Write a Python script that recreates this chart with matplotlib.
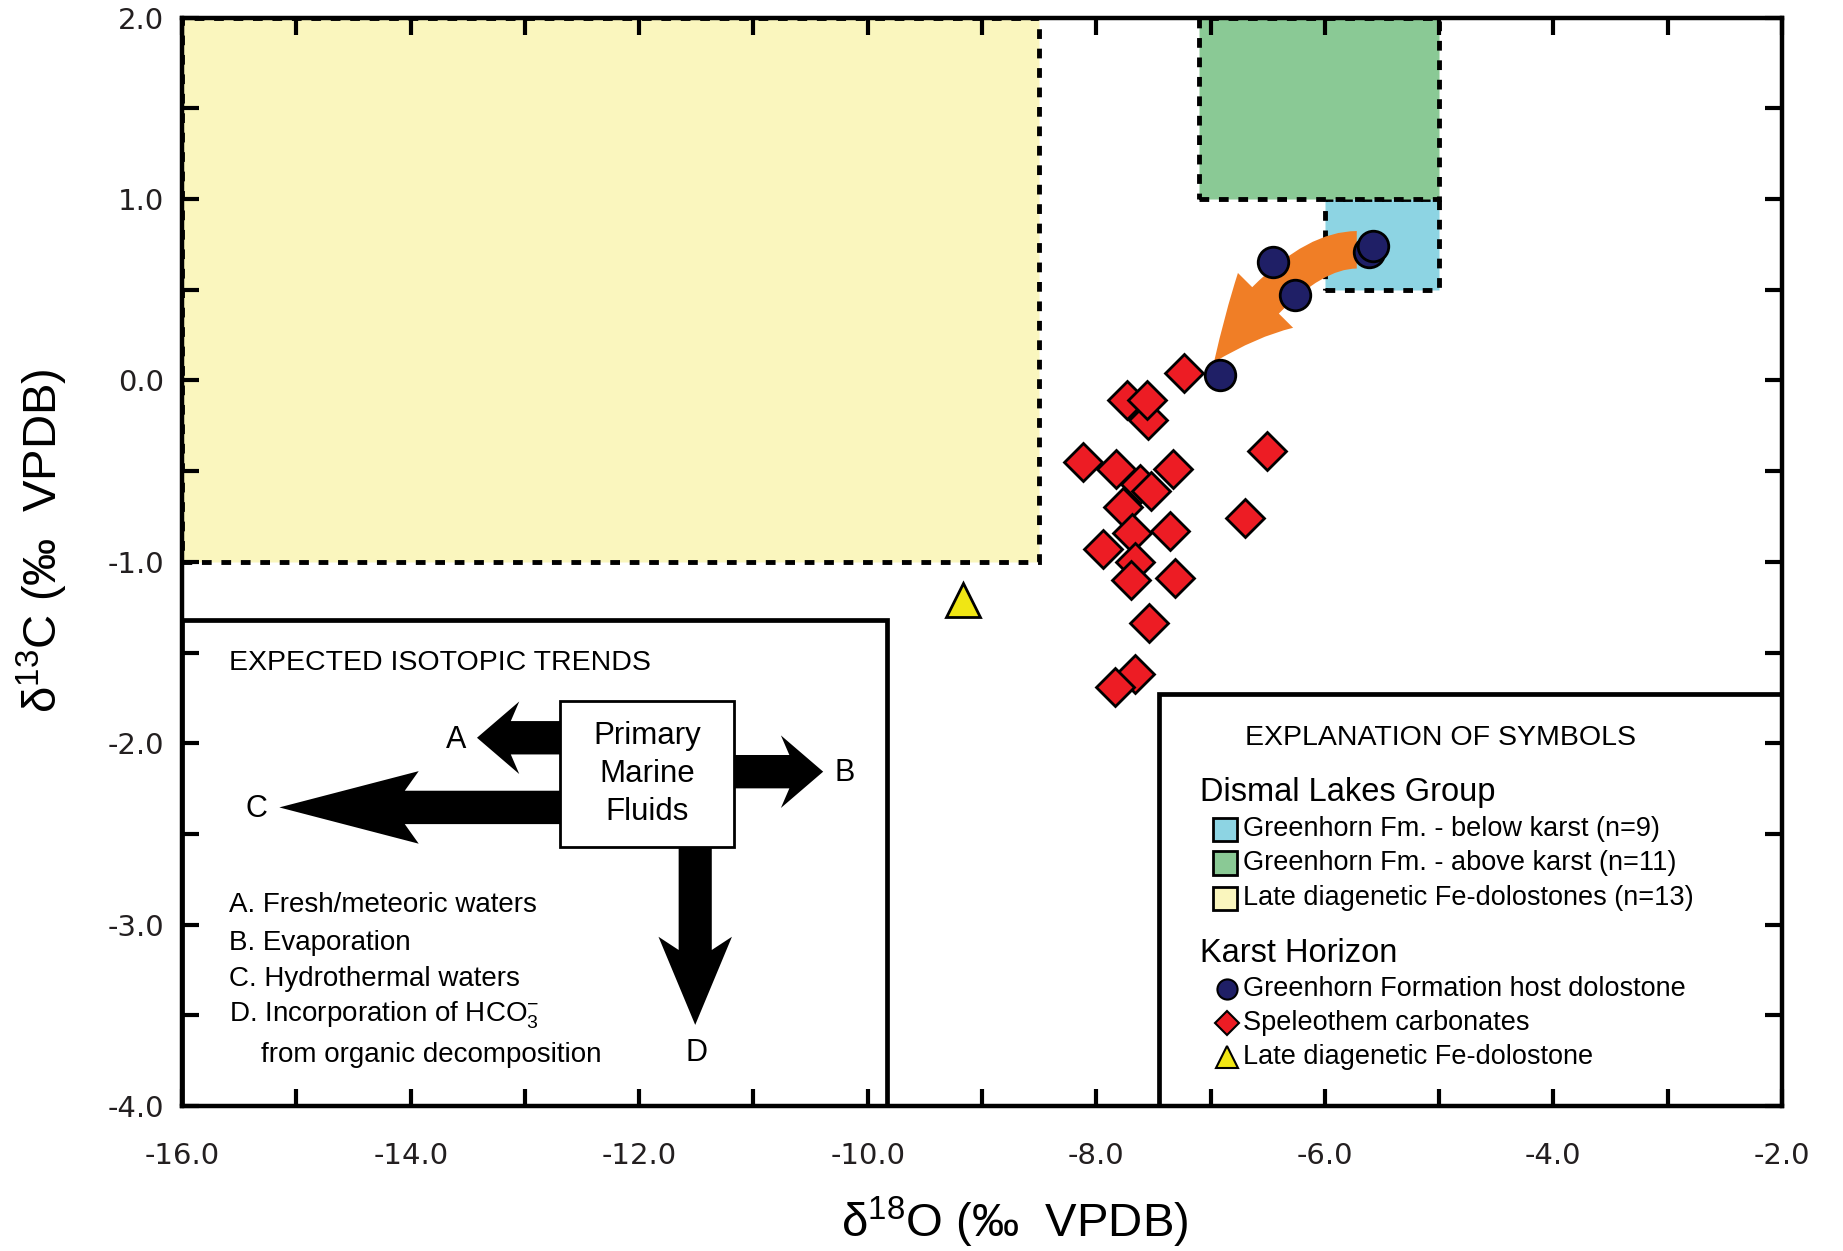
import matplotlib
matplotlib.use('Agg')
import matplotlib.pyplot as plt
from matplotlib import font_manager
from matplotlib.patches import Rectangle, FancyArrowPatch, FancyArrow
from matplotlib.ticker import MultipleLocator, FormatStrFormatter

# fonts
names = {f.name for f in font_manager.fontManager.ttflist}
SANS = 'Liberation Sans'
HAS_NARROW = 'Liberation Sans Narrow' in names
NARROW = 'Liberation Sans Narrow' if HAS_NARROW else SANS
TITLE_SIZE = 24.5 if HAS_NARROW else 20.5

plt.rcParams['font.family'] = [SANS, 'DejaVu Sans']
plt.rcParams['mathtext.fontset'] = 'custom'
plt.rcParams['mathtext.rm'] = SANS
plt.rcParams['mathtext.it'] = SANS + ':italic'
plt.rcParams['mathtext.bf'] = SANS + ':bold'
plt.rcParams['mathtext.default'] = 'regular'
plt.rcParams['axes.unicode_minus'] = False

# ---- data ----
# Karst horizon samples (d18O, d13C)
host_d18o = [-5.61, -5.58, -6.45, -6.26, -6.92]
host_d13c = [0.71, 0.74, 0.65, 0.47, 0.03]

speleo_d18o = [-7.23, -7.73, -7.545, -7.56, -8.12, -7.83, -7.33, -6.51, -7.62, -7.52,
               -7.77, -6.70, -7.69, -7.355, -7.94, -7.66, -7.70, -7.31, -7.54, -7.66, -7.84]
speleo_d13c = [0.04, -0.11, -0.22, -0.11, -0.45, -0.49, -0.49, -0.39, -0.57, -0.61,
               -0.70, -0.76, -0.84, -0.83, -0.93, -1.00, -1.10, -1.09, -1.34, -1.62, -1.69]

fe_d18o = [-9.17]
fe_d13c = [-1.21]

# Dismal Lakes Group fields
field_labels = ['Greenhorn Fm. - below karst (n=9)',
                'Greenhorn Fm. - above karst (n=11)',
                'Late diagenetic Fe-dolostones (n=13)']
field_colors = ['#8dd4e3', '#8ac995', '#faf6be']
field_x = [(-6.0, -5.0), (-7.1, -5.0), (-16.0, -8.5)]
field_y = [(0.5, 1.0), (1.0, 2.0), (-1.0, 2.0)]

symbol_labels = ['Greenhorn Formation host dolostone',
                 'Speleothem carbonates',
                 'Late diagenetic Fe-dolostone']

trend_notes = ['A. Fresh/meteoric waters', 'B. Evaporation', 'C. Hydrothermal waters',
               'D. Incorporation of HCO$_3^{-}$', 'from organic decomposition']

NAVY = '#1f1f66'
RED = '#ed1c24'
YEL = '#f0e614'
ORANGE = '#f07e26'

fig = plt.figure(figsize=(18.43, 12.51), dpi=100)
ax = fig.add_axes([182.2 / 1843, 1 - 1106 / 1251, 1599.6 / 1843, 1088.4 / 1251])
ax.set_xlim(-16, -2)
ax.set_ylim(-4, 2)

# shaded fields with dashed borders
dash = (0, (2, 2))
for (x0, x1), (y0, y1), c in zip(field_x, field_y, field_colors):
    ax.add_patch(Rectangle((x0, y0), x1 - x0, y1 - y0, facecolor=c, edgecolor='black',
                           lw=3.5, ls=dash, zorder=1))

# expected isotopic trends box
ax.add_patch(Rectangle((-16, -4), 6.17, 2.68, facecolor='white', edgecolor='black',
                       lw=3.4, zorder=1.5))
ax.text(-15.59, -1.56, 'EXPECTED ISOTOPIC TRENDS', family=NARROW, fontsize=TITLE_SIZE,
        ha='left', va='center', zorder=3)

ax.add_patch(Rectangle((-12.69, -2.57), 1.52, 0.80, facecolor='white', edgecolor='black',
                       lw=2, zorder=3))
ax.text(-11.93, -2.17, 'Primary\nMarine\nFluids', fontsize=22.5, ha='center', va='center',
        linespacing=1.33, zorder=3.5)

arrow_kw = dict(color='black', length_includes_head=True, zorder=2.6, lw=0)
ax.add_patch(FancyArrow(-12.6, -1.97, -0.82, 0, width=0.184, head_width=0.40,
                        head_length=0.37, overhang=0.2, **arrow_kw))
ax.add_patch(FancyArrow(-11.25, -2.157, 0.86, 0, width=0.184, head_width=0.40,
                        head_length=0.37, overhang=0.2, **arrow_kw))
ax.add_patch(FancyArrow(-12.6, -2.354, -2.55, 0, width=0.184, head_width=0.40,
                        head_length=1.22, overhang=0.1, **arrow_kw))
ax.add_patch(FancyArrow(-11.51, -2.5, 0, -1.053, width=0.29, head_width=0.643,
                        head_length=0.486, overhang=0.15, **arrow_kw))
for lab, x, y in [('A', -13.60, -1.98), ('B', -10.20, -2.166), ('C', -15.35, -2.36),
                  ('D', -11.50, -3.71)]:
    ax.text(x, y, lab, fontsize=22, ha='center', va='center', zorder=3)

note_y = [-2.89, -3.10, -3.30, -3.50, -3.72]
note_x = [-15.59, -15.59, -15.59, -15.59, -15.31]
for t, x, y in zip(trend_notes, note_x, note_y):
    ax.text(x, y, t, fontsize=20, ha='left', va='center', zorder=3)

# explanation of symbols box
ax.add_patch(Rectangle((-7.45, -4), 5.45, 2.27, facecolor='white', edgecolor='black',
                       lw=3.4, zorder=1.5))
ax.text(-6.70, -1.97, 'EXPLANATION OF SYMBOLS', family=NARROW, fontsize=TITLE_SIZE,
        ha='left', va='center', zorder=3)
ax.text(-7.09, -2.27, 'Dismal Lakes Group', fontsize=23.5, ha='left', va='center', zorder=3)
ax.text(-7.09, -3.16, 'Karst Horizon', fontsize=23.5, ha='left', va='center', zorder=3)

row_y = [-2.475, -2.66, -2.855]
for lab, c, y in zip(field_labels, field_colors, row_y):
    ax.add_patch(Rectangle((-6.975, y - 0.064), 0.21, 0.128, facecolor=c,
                           edgecolor='black', lw=2, zorder=3))
    ax.text(-6.72, y, lab, fontsize=19.5, ha='left', va='center', zorder=3)

sym_y = [-3.355, -3.54, -3.73]
sym_style = [dict(marker='o', ms=14.5, mfc=NAVY), dict(marker='D', ms=12.5, mfc=RED),
             dict(marker='^', ms=16, mfc=YEL)]
for lab, st, y in zip(symbol_labels, sym_style, sym_y):
    ax.plot([-6.86], [y], ls='none', mec='black', mew=1.5, zorder=3, **st)
    ax.text(-6.72, y, lab, fontsize=19.5, ha='left', va='center', zorder=3)

# trend arrow from host dolostone towards speleothems
ax.add_patch(FancyArrowPatch((-5.72, 0.72), (-6.97, 0.10),
                             connectionstyle='angle3,angleA=0,angleB=54',
                             arrowstyle='simple,head_length=58,head_width=56,tail_width=27',
                             color=ORANGE, shrinkA=0, shrinkB=0, lw=0, zorder=3.5))

# samples
ax.plot(speleo_d18o, speleo_d13c, ls='none', marker='D', ms=19, mfc=RED, mec='black',
        mew=2, zorder=4)
ax.plot(fe_d18o, fe_d13c, ls='none', marker='^', ms=24, mfc=YEL, mec='black',
        mew=2, zorder=4)
ax.plot(host_d18o, host_d13c, ls='none', marker='o', ms=22, mfc=NAVY, mec='black',
        mew=2, zorder=5)

# axes styling
for s in ax.spines.values():
    s.set_linewidth(3.2)
    s.set_zorder(6)
ax.xaxis.set_major_locator(MultipleLocator(2))
ax.xaxis.set_minor_locator(MultipleLocator(1))
ax.yaxis.set_major_locator(MultipleLocator(1))
ax.yaxis.set_minor_locator(MultipleLocator(0.5))
ax.xaxis.set_major_formatter(FormatStrFormatter('%.1f'))
ax.yaxis.set_major_formatter(FormatStrFormatter('%.1f'))
ax.tick_params(which='both', direction='in', length=12, width=3, top=True, right=True)
ax.tick_params(axis='x', pad=26)
ax.tick_params(axis='y', pad=13)
for lab in ax.get_xticklabels() + ax.get_yticklabels():
    lab.set_family('DejaVu Sans')
    lab.set_fontsize(21)
    lab.set_color('#231f20')

fig.text(0.5507, 0.023, 'δ$^{18}$O (‰  VPDB)', fontsize=34, ha='center', va='center')
fig.text(0.0233, 0.5675, 'δ$^{13}$C (‰  VPDB)', fontsize=34, ha='center', va='center',
         rotation=90)

fig.savefig('out.png', dpi=100)
